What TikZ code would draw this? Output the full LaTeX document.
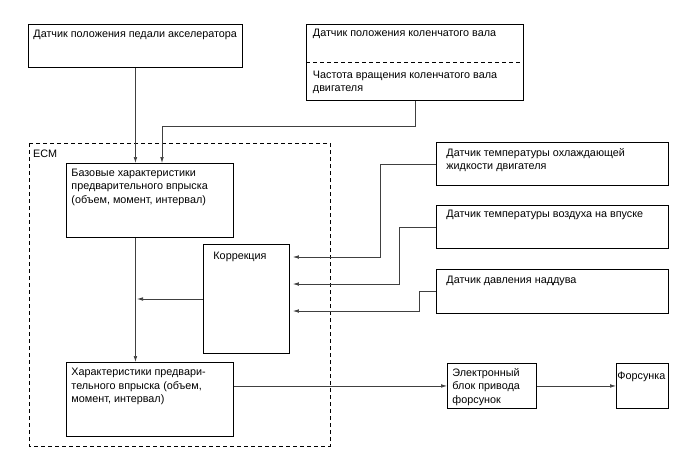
\documentclass[tikz,border=0pt]{standalone}
\usepackage{fontspec}
\setmainfont{Liberation Sans}
\usetikzlibrary{arrows.meta}
\newcommand{\bt}[5]{\parbox[c][#2][t]{#1}{\fontsize{10.8}{13.5}\selectfont\raggedright\leftskip=#3\relax\parindent=0pt\vspace*{#4}\strut #5}}
\begin{document}
\begin{tikzpicture}[x=1pt,y=-1pt,
  box/.style={draw=black, line width=0.9pt, inner sep=0pt, anchor=north west, fill=white},
  conn/.style={draw=black!75, line width=0.65pt},
  arr/.style={conn, -{Latex[length=6pt,width=3.6pt]}},
  dashln/.style={draw=black, line width=0.9pt, dash pattern=on 4pt off 3pt},
  lbl/.style={inner sep=0pt, anchor=base west, font=\fontsize{10.8}{13.5}\selectfont}]
\useasboundingbox (0,0) rectangle (688,463);
\fill[white] (0,0) rectangle (688,463);
% ECM frame
\draw[dashln] (29,143) rectangle (330,446);
\node[lbl] (ECM) at (33,157) {ECM};
% boxes
\node[box] (A) at (28,24) {\bt{214pt}{43pt}{5pt}{3.5pt}{Датчик положения педали акселератора}};
\node[box] (B) at (306,24) {\bt{217pt}{76pt}{6.5pt}{3.0pt}{Датчик положения коленчатого вала\\[27.7pt]Частота вращения коленчатого вала\\двигателя}};
\draw[dashln] ([yshift=-38pt]B.north west) -- ([yshift=-38pt]B.north east);
\node[box] (C) at (66,163) {\bt{167pt}{74pt}{5pt}{3.5pt}{Базовые характеристики\\предварительного впрыска\\(объем, момент, интервал)}};
\node[box] (D) at (203,244) {\bt{86pt}{109pt}{10pt}{5.8pt}{Коррекция}};
\node[box] (E) at (66,362) {\bt{167pt}{74pt}{5pt}{3.8pt}{Характеристики предвари-\\тельного впрыска (объем,\\момент, интервал)}};
\node[box] (F) at (436,142) {\bt{232pt}{43pt}{10pt}{4.2pt}{Датчик температуры охлаждающей\\жидкости двигателя}};
\node[box] (G) at (436,205) {\bt{232pt}{43pt}{10pt}{2.8pt}{Датчик температуры воздуха на впуске}};
\node[box] (H) at (436,269) {\bt{232pt}{44pt}{10pt}{4.2pt}{Датчик давления наддува}};
\node[box] (I) at (447,363) {\bt{89pt}{45pt}{5pt}{3.5pt}{Электронный\\блок привода\\форсунок}};
\node[box] (J) at (616,363) {\bt{52pt}{45pt}{1pt}{6.8pt}{Форсунка}};
% connectors
\draw[arr] (A.south) -- (A.south |- C.north);
\coordinate (crk) at (162,126);
\draw[arr] (B.south) |- (crk) -- (crk |- C.north);
\draw[arr] (A.south |- C.south) -- (A.south |- E.north);
\coordinate (mix) at (137,299);
\draw[arr] (D.west |- mix) -- (mix);
\coordinate (f1) at (380,257);
\coordinate (g1) at (399,284);
\coordinate (h1) at (419,311);
\draw[arr, shorten >=3pt] (F.west) -| (f1) -- (f1 -| D.east);
\draw[arr, shorten >=3pt] (G.west) -| (g1) -- (g1 -| D.east);
\draw[arr, shorten >=3pt] (H.west) -| (h1) -- (h1 -| D.east);
\draw[arr] (E.east |- I.west) -- (I.west);
\draw[arr] (I.east) -- (J.west);
\end{tikzpicture}
\end{document}
